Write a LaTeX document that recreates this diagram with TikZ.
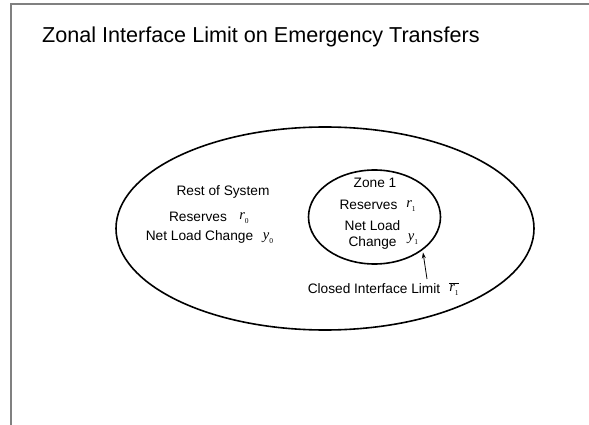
\documentclass[tikz,border=0pt]{standalone}
\usepackage{fontspec}
\setmainfont{Liberation Sans}
\newfontfamily\tms{Liberation Serif}
\usetikzlibrary{shapes.geometric,arrows.meta}
\newcommand{\myvar}[2]{{\tms\itshape #1}\raisebox{-0.5ex}{\tms\fontsize{7.5}{8}\selectfont #2}}
\begin{document}
\begin{tikzpicture}[x=1pt,y=-1pt,
  body/.style={font=\fontsize{13.7}{15.5}\selectfont, inner sep=0pt},
  varlab/.style={font=\fontsize{14.5}{15}\selectfont, inner sep=0pt},
  region/.style={draw, ellipse, line width=1.6pt, inner sep=0pt},
  framel/.style={draw=black!50, line width=1.6pt}]
\useasboundingbox (0,0) rectangle (589,425);
% frame
\coordinate (fbl) at (11,426);
\coordinate (ftl) at (11,4);
\coordinate (ftr) at (590,4);
\draw[framel] (fbl) -- (ftl) -- (ftr);
% title
\node[anchor=west, inner sep=0pt, font=\fontsize{21.6}{24}\selectfont] (title) at (42,37) {Zonal Interface Limit on Emergency Transfers};
% ellipses
\node[region, minimum width=418pt, minimum height=203pt] (sys) at (325,228.5) {};
\node[region, minimum width=132pt, minimum height=94pt] (zone) at (374.5,217) {};
% rest of system
\node[body] (rest) at (223,192) {Rest of System};
\node[body] (res0) at (198,217) {Reserves};
\node[varlab] (r0) at (244,218) {\myvar{r}{0}};
\node[body] (nlc0) at (199.5,237) {Net Load Change};
\node[varlab] (y0) at (268,238) {\myvar{y}{0}};
% zone 1
\node[body] (z1) at (375,183) {Zone 1};
\node[body] (res1) at (368.5,205) {Reserves};
\node[varlab] (r1) at (411,206) {\myvar{r}{1}};
\node[body, align=center] (nlc1) at (372.5,235) {Net Load\\Change};
\node[varlab] (y1) at (413,239) {\myvar{y}{1}};
% limit
\node[body] (lim) at (374,289) {Closed Interface Limit};
\node[varlab] (rb) at (454,289) {$\overline{\hbox{\myvar{r}{1}}}$};
\coordinate (atail) at (427,279);
\coordinate (ahead) at (423,252.5);
\draw[line width=0.8pt, -{Stealth[length=6pt,width=4pt]}] (atail) -- (ahead);
\end{tikzpicture}
\end{document}
